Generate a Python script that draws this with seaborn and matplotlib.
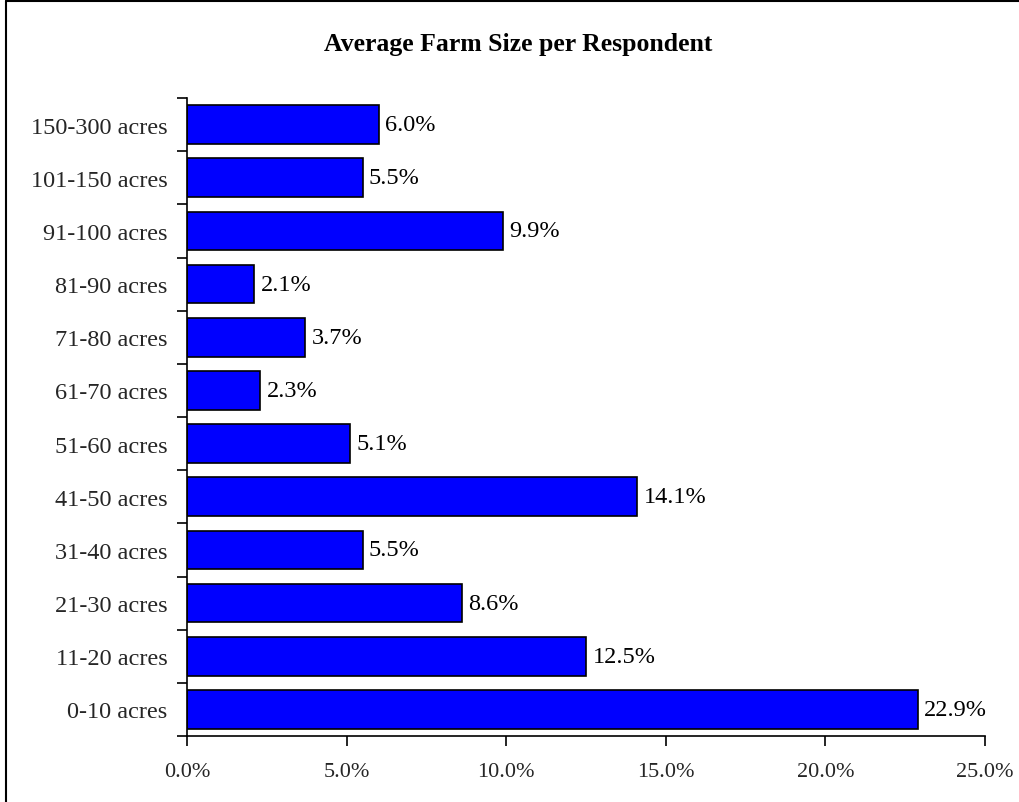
import matplotlib
matplotlib.use("Agg")
import matplotlib.pyplot as plt
from matplotlib.lines import Line2D
from matplotlib.ticker import FuncFormatter, FixedLocator
import seaborn as sns
import pandas as pd

categories = ["150-300 acres", "101-150 acres", "91-100 acres", "81-90 acres",
              "71-80 acres", "61-70 acres", "51-60 acres", "41-50 acres",
              "31-40 acres", "21-30 acres", "11-20 acres", "0-10 acres"]
shares = [6.0, 5.5, 9.9, 2.1, 3.7, 2.3, 5.1, 14.1, 5.5, 8.6, 12.5, 22.9]

df = pd.DataFrame({"size": categories, "share": shares})

sns.set_theme(style="white")
plt.rcParams["font.family"] = ["Liberation Serif", "DejaVu Serif"]

fig = plt.figure(figsize=(10.19, 8.03), dpi=100)
W, H = 1019, 803
ax = fig.add_axes([187 / W, 1 - 737 / H, (985 - 187) / W, (737 - 99) / H])

sns.barplot(data=df, x="share", y="size", orient="h", color="#0000FF",
            saturation=1, edgecolor="black", linewidth=1.2, width=0.73, ax=ax)

ax.set_xlim(0, 25)
ax.set_ylim(len(categories) - 0.5, -0.5)
ax.set_xticks([0, 5, 10, 15, 20, 25])
ax.xaxis.set_major_formatter(FuncFormatter(lambda v, p: f"{v:.1f}%"))
ax.set_xlabel("")
ax.set_ylabel("")

# category labels at bar centres, tick marks on category boundaries
ax.set_yticks(range(len(categories)))
ax.set_yticklabels(categories)
ax.tick_params(axis="y", which="major", length=0, pad=14, labelsize=17.5)
ax.yaxis.set_minor_locator(FixedLocator([i - 0.5 for i in range(len(categories) + 1)]))
ax.tick_params(axis="y", which="minor", length=7, width=1.2, color="black", left=True)
ax.tick_params(axis="x", which="major", length=7, width=1.2, color="black",
               bottom=True, labelsize=16, pad=12)

for side in ["top", "right"]:
    ax.spines[side].set_visible(False)
for side in ["left", "bottom"]:
    ax.spines[side].set_color("black")
    ax.spines[side].set_linewidth(1.2)

for i, v in enumerate(shares):
    ax.text(v + 0.2, i, f"{v:.1f}%", va="center", ha="left", fontsize=17.5,
            color="black")

fig.text(518 / W, 1 - 44 / H, "Average Farm Size per Respondent",
         ha="center", va="center", fontsize=18.5, fontweight="bold", color="black")

# chart frame (top and left edges)
fig.add_artist(Line2D([6 / W, 6 / W], [0, 1 - 2 / H], transform=fig.transFigure,
                      color="black", linewidth=1.5))
fig.add_artist(Line2D([6 / W, 1], [1 - 2 / H, 1 - 2 / H], transform=fig.transFigure,
                      color="black", linewidth=1.5))

fig.savefig("out.png", dpi=100)
